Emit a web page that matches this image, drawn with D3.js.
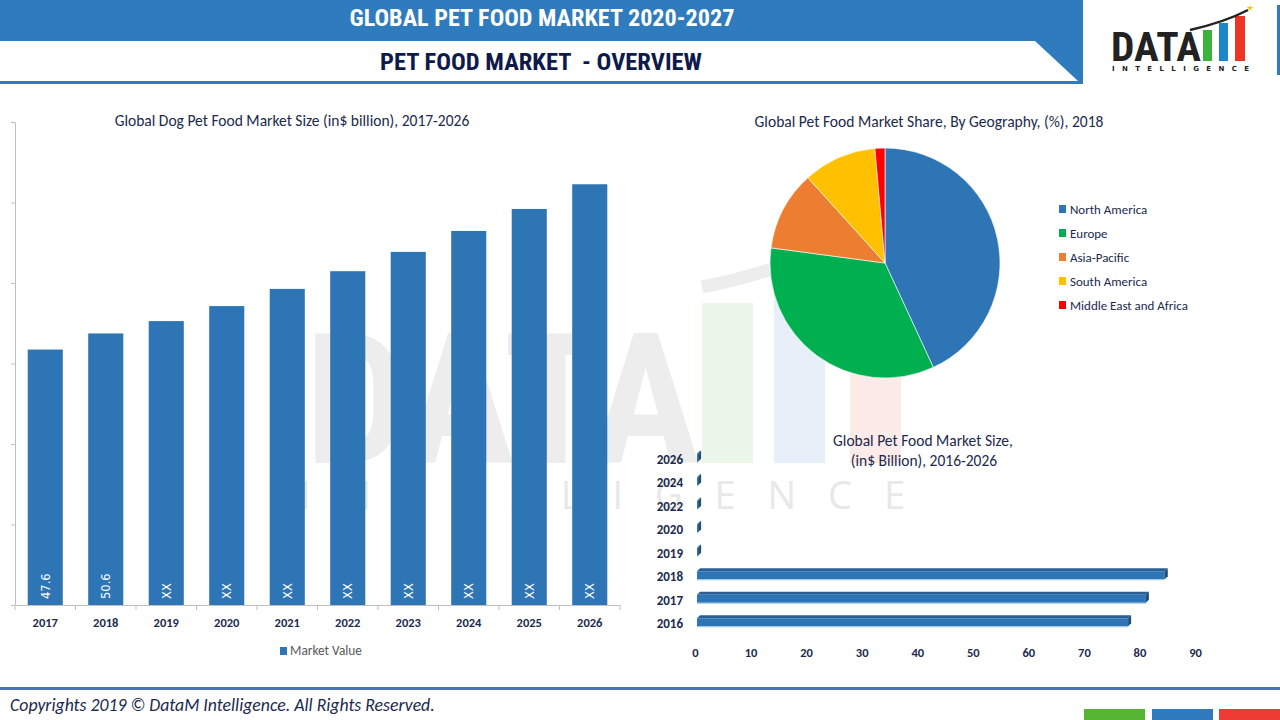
<!DOCTYPE html>
<html>
<head>
<meta charset="utf-8">
<script src="https://cdn.jsdelivr.net/npm/d3@7"></script>
<style>
  html, body { margin: 0; padding: 0; background: #fff; }
  svg { display: block; }
</style>
</head>
<body>
<svg id="chart" width="1280" height="720"></svg>
<script>
// ---------------- DATA ----------------
const dogYears = ["2017","2018","2019","2020","2021","2022","2023","2024","2025","2026"];
const dogValues = [47.6, 50.6, 52.9, 55.7, 58.9, 62.2, 65.8, 69.7, 73.8, 78.4];
const dogLabels = ["47.6","50.6","XX","XX","XX","XX","XX","XX","XX","XX"];
const dogTicks = [0, 15, 30, 45, 60, 75, 90];
const dogSeriesName = "Market Value";

const regions = ["North America","Europe","Asia-Pacific","South America","Middle East and Africa"];
const regionShares = [43.1, 34.0, 11.2, 10.3, 1.4];
const regionColors = ["#2e75b6","#00b050","#ed7d31","#ffc000","#ff0000"];

const marketYears = ["2016","2017","2018","2019","2020","2022","2024","2026"];
const marketValues = [77.6, 80.8, 84.2, 0.2, 0.2, 0.2, 0.2, 0.2];
const marketTicks = [0,10,20,30,40,50,60,70,80,90];

// ---------------- SETUP ----------------
const svg = d3.select("#chart");
const NAVY = "#1b2a4e";
const BLUE = "#2e75b6";
const CAL = "Carlito, Lato, 'Open Sans', sans-serif";
const NARROW = "'Liberation Sans Narrow', 'Roboto Condensed', 'DejaVu Sans Condensed', sans-serif";

function fit(sel, target) {
  const node = sel.node();
  const fs = parseFloat(sel.attr("font-size"));
  const len = node.getComputedTextLength();
  if (len > 0) sel.attr("font-size", (fs * target / len).toFixed(2));
  return sel;
}

// ---------------- WATERMARK ----------------
const wm = svg.append("g").attr("class", "watermark");
wm.append("path")
  .attr("d", "M702,287 Q800,268 905,212")
  .attr("fill", "none").attr("stroke", "#ededed").attr("stroke-width", 13);
fit(wm.append("text").attr("x", 305).attr("y", 463)
  .attr("font-family", NARROW).attr("font-weight", "bold").attr("font-size", 200)
  .attr("fill", "#ededed").text("DATA"), 395);
wm.append("rect").attr("x", 702).attr("y", 303).attr("width", 51).attr("height", 160).attr("fill", "#eaf6e9");
wm.append("rect").attr("x", 774).attr("y", 288).attr("width", 51).attr("height", 175).attr("fill", "#e7f0f8");
wm.append("rect").attr("x", 850).attr("y", 270).attr("width", 51).attr("height", 193).attr("fill", "#fdebe9");
wm.append("text").attr("x", 300).attr("y", 509)
  .attr("font-family", "'Open Sans', sans-serif").attr("font-size", 38)
  .attr("fill", "#e8e8e8")
  .attr("textLength", 605).attr("lengthAdjust", "spacing")
  .text("INTELLIGENCE");

// ---------------- HEADER ----------------
const hdr = svg.append("g");
hdr.append("rect").attr("x", 0).attr("y", 0).attr("width", 1083).attr("height", 84).attr("fill", "#2e7bbd");
hdr.append("polygon").attr("points", "0,41 1035,41 1078,81 0,81").attr("fill", "#fff");
fit(hdr.append("text").attr("x", 542).attr("y", 26).attr("text-anchor", "middle")
  .attr("font-family", NARROW).attr("font-weight", "bold").attr("font-size", 20)
  .attr("fill", "#fff").text("GLOBAL PET FOOD MARKET 2020-2027"), 385);
fit(hdr.append("text").attr("x", 541).attr("y", 70).attr("text-anchor", "middle")
  .attr("font-family", NARROW).attr("font-weight", "bold").attr("font-size", 20)
  .attr("fill", "#0e1a4a").attr("xml:space", "preserve").text("PET FOOD MARKET  - OVERVIEW"), 322);

// Logo
const logo = svg.append("g");
logo.append("rect").attr("x", 1277).attr("y", 5).attr("width", 3).attr("height", 70).attr("fill", "#2e7bbd");
fit(logo.append("text").attr("x", 1111).attr("y", 61)
  .attr("font-family", NARROW).attr("font-weight", "bold").attr("font-size", 44)
  .attr("fill", "#222").text("DATA"), 90);
logo.append("rect").attr("x", 1203).attr("y", 30).attr("width", 9).attr("height", 31).attr("fill", "#3cb43c");
logo.append("rect").attr("x", 1219).attr("y", 23).attr("width", 9).attr("height", 38).attr("fill", "#1b87c9");
logo.append("rect").attr("x", 1235).attr("y", 16).attr("width", 10).attr("height", 45).attr("fill", "#ee3524");
logo.append("path").attr("d", "M1190,30 Q1225,22 1248,10").attr("fill", "none")
  .attr("stroke", "#222").attr("stroke-width", 2.5);
logo.append("path").attr("d", d3.symbol(d3.symbolStar, 14)()).attr("transform", "translate(1250,8)").attr("fill", "#f5c400");
logo.append("text").attr("x", 1112).attr("y", 71)
  .attr("font-family", "'DejaVu Sans', sans-serif").attr("font-weight", "bold").attr("font-size", 7)
  .attr("fill", "#222").attr("textLength", 137).attr("lengthAdjust", "spacing").text("INTELLIGENCE");

// ---------------- LEFT BAR CHART ----------------
const L = { x0: 15, x1: 620, y0: 605, y1: 122 };
const xDog = d3.scaleBand().domain(dogYears).range([L.x0, L.x1]).paddingInner(0.42).paddingOuter(0.21);
const yDog = d3.scaleLinear().domain([0, 90]).range([L.y0, L.y1]);

fit(svg.append("text").attr("x", 292).attr("y", 126).attr("text-anchor", "middle")
  .attr("font-family", CAL).attr("font-size", 14).attr("fill", NAVY)
  .text("Global Dog Pet Food Market Size (in$ billion), 2017-2026"), 355);

const gy = svg.append("g").attr("transform", `translate(${L.x0},0)`)
  .call(d3.axisLeft(yDog).tickValues(dogTicks).tickSize(4).tickFormat(""));
gy.selectAll("path,line").attr("stroke", "#bfbfbf");

svg.append("g").selectAll("rect").data(dogValues).join("rect")
  .attr("x", (d, i) => xDog(dogYears[i]))
  .attr("y", d => yDog(d))
  .attr("width", xDog.bandwidth())
  .attr("height", d => yDog(0) - yDog(d))
  .attr("fill", BLUE);

svg.append("g").selectAll("text").data(dogLabels).join("text")
  .attr("transform", (d, i) => `translate(${xDog(dogYears[i]) + xDog.bandwidth() / 2 + 4.5},${L.y0 - 6}) rotate(-90)`)
  .attr("font-family", "'DejaVu Sans', sans-serif").attr("font-size", 11.5)
  .attr("fill", "#fff").text(d => d);

const gx = svg.append("g").attr("transform", `translate(0,${L.y0})`)
  .call(d3.axisBottom(xDog).tickSize(0).tickFormat(d => d));
gx.select("path").attr("stroke", "#bfbfbf");
gx.selectAll("text").attr("dy", 0).attr("y", 22)
  .attr("font-family", CAL).attr("font-weight", "bold").attr("font-size", 12.5).attr("fill", NAVY);
const bounds = [L.x0].concat(dogYears.map(d => xDog(d) + xDog.bandwidth() + xDog.step() * xDog.paddingInner() / 2));
bounds[bounds.length - 1] = L.x1;
gx.selectAll("line.bt").data(bounds).join("line").attr("class", "bt")
  .attr("x1", d => d).attr("x2", d => d).attr("y1", 0).attr("y2", 5).attr("stroke", "#bfbfbf");

const lg = svg.append("g");
lg.append("rect").attr("x", 280).attr("y", 647).attr("width", 7).attr("height", 8).attr("fill", BLUE);
fit(lg.append("text").attr("x", 290).attr("y", 655).attr("font-family", CAL).attr("font-size", 13)
  .attr("fill", "#595959").text(dogSeriesName), 72);

// ---------------- PIE ----------------
fit(svg.append("text").attr("x", 929).attr("y", 127).attr("text-anchor", "middle")
  .attr("font-family", CAL).attr("font-size", 14).attr("fill", NAVY)
  .text("Global Pet Food Market Share, By Geography, (%), 2018"), 349);

const pie = d3.pie().sort(null)(regionShares);
const arc = d3.arc().innerRadius(0).outerRadius(115);
svg.append("g").attr("transform", "translate(885,263)")
  .selectAll("path").data(pie).join("path")
  .attr("d", arc).attr("fill", (d, i) => regionColors[i])
  .attr("stroke", "#fff").attr("stroke-width", 0.6);

const pl = svg.append("g").selectAll("g").data(regions).join("g")
  .attr("transform", (d, i) => `translate(1059,${209 + i * 24})`);
pl.append("rect").attr("x", 0).attr("y", -4).attr("width", 7).attr("height", 8).attr("fill", (d, i) => regionColors[i]);
const plt = pl.append("text").attr("x", 11).attr("y", 4.5).attr("font-family", CAL).attr("font-size", 12)
  .attr("fill", NAVY).text(d => d);
{
  const longest = plt.filter((d, i) => i === regions.length - 1);
  fit(longest, 118);
  plt.attr("font-size", longest.attr("font-size"));
}

// ---------------- HORIZONTAL BAR CHART ----------------
const xM = d3.scaleLinear().domain([0, 90]).range([697, 1197]);
const yM = d3.scaleBand().domain(marketYears.slice().reverse()).range([446, 634]);

const t1 = svg.append("text").attr("x", 923).attr("y", 446).attr("text-anchor", "middle")
  .attr("font-family", CAL).attr("font-size", 14).attr("fill", NAVY).text("Global Pet Food Market Size,");
fit(t1, 180);
const t2 = svg.append("text").attr("x", 924).attr("y", 466).attr("text-anchor", "middle")
  .attr("font-family", CAL).attr("font-size", 14).attr("fill", NAVY).text("(in$ Billion), 2016-2026");
t2.attr("font-size", t1.attr("font-size"));

const bars = svg.append("g").selectAll("g").data(marketValues).join("g");
const D = 3;
bars.each(function (v, i) {
  const g = d3.select(this);
  const yc = yM(marketYears[i]) + yM.bandwidth() / 2;
  const xa = xM(0), xb = xM(v);
  const top = yc - 4, bot = yc + 4;
  g.append("polygon").attr("points", `${xa},${top} ${xa + D},${top - D} ${xb + D},${top - D} ${xb},${top}`).attr("fill", "#2a5f93");
  g.append("rect").attr("x", xa).attr("y", top).attr("width", Math.max(0, xb - xa)).attr("height", bot - top).attr("fill", BLUE);
  g.append("polygon").attr("points", `${xb},${top} ${xb + D},${top - D} ${xb + D},${bot - D} ${xb},${bot}`).attr("fill", "#1f4e79");
  g.append("line").attr("x1", xa).attr("x2", xb).attr("y1", bot + 0.5).attr("y2", bot + 0.5).attr("stroke", "#9dc3e6").attr("stroke-width", 1);
});

const gyM = svg.append("g").attr("transform", "translate(683,0)")
  .call(d3.axisLeft(yM).tickSize(0).tickPadding(0));
gyM.select("path").remove();
gyM.selectAll("text").attr("dy", "0.32em").attr("y", 2)
  .attr("font-family", CAL).attr("font-weight", "bold").attr("font-size", 13).attr("fill", NAVY);

const gxM = svg.append("g").attr("transform", "translate(-2,640)")
  .call(d3.axisBottom(xM).tickValues(marketTicks).tickSize(0).tickFormat(d3.format("d")));
gxM.select("path").remove();
gxM.selectAll("text").attr("dy", 0).attr("y", 17)
  .attr("font-family", CAL).attr("font-weight", "bold").attr("font-size", 12.5).attr("fill", NAVY);

// ---------------- FOOTER ----------------
svg.append("rect").attr("x", 0).attr("y", 687).attr("width", 1280).attr("height", 3).attr("fill", "#4a72b2");
fit(svg.append("text").attr("x", 10).attr("y", 711)
  .attr("font-family", CAL).attr("font-style", "italic").attr("font-size", 16)
  .attr("fill", "#1b2a4e").text("Copyrights 2019 © DataM Intelligence. All Rights Reserved."), 425);
svg.append("rect").attr("x", 1084).attr("y", 709).attr("width", 61).attr("height", 11).attr("fill", "#56b533");
svg.append("rect").attr("x", 1152).attr("y", 709).attr("width", 61).attr("height", 11).attr("fill", "#2e7bbd");
svg.append("rect").attr("x", 1219).attr("y", 709).attr("width", 61).attr("height", 11).attr("fill", "#ee3b33");
</script>
</body>
</html>
